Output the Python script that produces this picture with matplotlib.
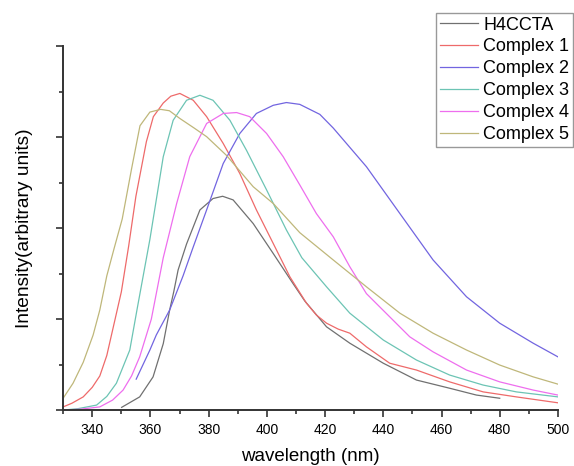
import matplotlib
matplotlib.use('Agg')
import matplotlib.pyplot as plt
from matplotlib.ticker import MultipleLocator, NullFormatter

plt.rcParams['font.family'] = ['Liberation Sans', 'DejaVu Sans']

# emission spectra (intensity in arbitrary units)
h4ccta_x = [350.1, 356.3, 360.9, 364.4, 366.6, 368.0, 369.5, 372.4, 377.0, 381.5, 384.8, 388.4,
            395.3, 402.2, 409.0, 413.0, 420.5, 428.5, 440.0, 451.4, 462.8, 472.0, 480.0]
h4ccta_y = [0.06, 0.29, 0.73, 1.46, 2.20, 2.60, 3.08, 3.65, 4.40, 4.65, 4.70, 4.62,
            4.10, 3.44, 2.78, 2.40, 1.83, 1.47, 1.03, 0.66, 0.48, 0.33, 0.26]

c1_x = [330, 333, 336.9, 340, 342.6, 345, 347.5, 350, 352.5, 355, 358.6, 361, 364.4, 367,
        370.1, 374.7, 379.3, 385, 390.7, 396.4, 402.2, 407.9, 413.6, 417, 420.5, 424.5,
        428.5, 434.2, 442.2, 451.4, 462.8, 474.3, 485.7, 500]
c1_y = [0.07, 0.15, 0.29, 0.50, 0.75, 1.20, 1.90, 2.60, 3.60, 4.70, 5.90, 6.45, 6.75, 6.90,
        6.96, 6.81, 6.45, 5.86, 5.20, 4.40, 3.66, 2.93, 2.35, 2.09, 1.91, 1.78,
        1.69, 1.39, 1.03, 0.88, 0.62, 0.40, 0.29, 0.16]

c2_x = [355.1, 359.8, 362, 366.6, 371.2, 374.5, 379.3, 385, 390.7, 396.4, 402.2, 406.7,
        411.3, 418.2, 422.8, 434.2, 445.7, 457.1, 468.6, 480, 491.5, 500]
c2_y = [0.68, 1.32, 1.65, 2.20, 2.95, 3.55, 4.40, 5.42, 6.08, 6.52, 6.70, 6.76,
        6.72, 6.50, 6.20, 5.35, 4.32, 3.30, 2.49, 1.91, 1.47, 1.17]

c3_x = [330, 335, 341.5, 345, 348.3, 352.9, 355.5, 359.8, 364.4, 367.8, 372.4, 377, 381.5,
        387.3, 393, 399.9, 406.7, 412, 420.5, 428.5, 440, 451.4, 462.8, 474.3, 485.7, 500]
c3_y = [0.0, 0.03, 0.11, 0.30, 0.59, 1.32, 2.25, 3.75, 5.57, 6.37, 6.81, 6.92, 6.81,
        6.37, 5.71, 4.84, 3.96, 3.35, 2.71, 2.13, 1.54, 1.10, 0.77, 0.55, 0.40, 0.29]

c4_x = [330, 336, 342.6, 347, 350.6, 353.5, 356.3, 360.3, 364.4, 369, 373.5, 379.3, 385,
        389.6, 394.1, 399.9, 405.6, 411.3, 417, 422.8, 428.5, 434.2, 442.2, 449.1, 457.1,
        468.6, 480, 491.5, 500]
c4_y = [0.0, 0.02, 0.07, 0.22, 0.44, 0.75, 1.17, 2.00, 3.35, 4.54, 5.57, 6.30, 6.52,
        6.54, 6.45, 6.08, 5.57, 4.95, 4.32, 3.81, 3.15, 2.56, 2.05, 1.61, 1.28,
        0.88, 0.62, 0.44, 0.33]

c5_x = [330, 333.4, 336.9, 340.3, 342.6, 345, 347.5, 350.3, 353.5, 356.4, 359.8, 363.5,
        366.5, 370.1, 375, 379.3, 386.1, 395.3, 402.2, 411.3, 422.8, 434.2, 445.7, 457.1,
        468.6, 480, 491.5, 500]
c5_y = [0.26, 0.59, 1.05, 1.65, 2.20, 2.95, 3.55, 4.20, 5.30, 6.25, 6.55, 6.61,
        6.58, 6.41, 6.20, 6.01, 5.60, 4.91, 4.54, 3.90, 3.30, 2.71, 2.13, 1.69,
        1.32, 0.99, 0.73, 0.57]

series = [
    ('H4CCTA', h4ccta_x, h4ccta_y, '#707070'),
    ('Complex 1', c1_x, c1_y, '#ee6a6a'),
    ('Complex 2', c2_x, c2_y, '#7265e0'),
    ('Complex 3', c3_x, c3_y, '#6cc4b4'),
    ('Complex 4', c4_x, c4_y, '#ee6eee'),
    ('Complex 5', c5_x, c5_y, '#bfb77a'),
]

fig = plt.figure(figsize=(5.74, 4.66), dpi=100)
ax = fig.add_axes([0.110, 0.120, 0.862, 0.781])

for name, xs, ys, col in series:
    ax.plot(xs, ys, color=col, lw=0.9, label=name)

ax.set_xlim(330, 500)
ax.set_ylim(0, 8)

ax.spines['top'].set_visible(False)
ax.spines['right'].set_visible(False)
for s in ['left', 'bottom']:
    ax.spines[s].set_linewidth(1.4)
    ax.spines[s].set_color('#333333')

ax.xaxis.set_major_locator(MultipleLocator(20))
ax.xaxis.set_minor_locator(MultipleLocator(10))
ax.yaxis.set_major_locator(MultipleLocator(2))
ax.yaxis.set_minor_locator(MultipleLocator(1))
ax.yaxis.set_major_formatter(NullFormatter())
ax.set_xticks(range(340, 501, 20))

ax.tick_params(which='major', direction='out', length=5, width=1.2, color='#333333',
               labelsize=10, pad=4.5)
ax.tick_params(which='minor', direction='out', length=3, width=1.2, color='#333333')

ax.set_xlabel('wavelength (nm)', fontsize=13.5, labelpad=8)
ax.set_ylabel('Intensity(arbitrary units)', fontsize=13.8, labelpad=12)

leg = fig.legend(loc='upper right', bbox_to_anchor=(573 / 574, 1 - 13 / 466),
                 fontsize=13, frameon=True, fancybox=False, framealpha=1,
                 edgecolor='#999999', handlelength=2.1, handletextpad=0.3,
                 borderpad=0.2, labelspacing=0.27, borderaxespad=0)
leg.get_frame().set_linewidth(1.0)

fig.savefig('out.png', dpi=100)
